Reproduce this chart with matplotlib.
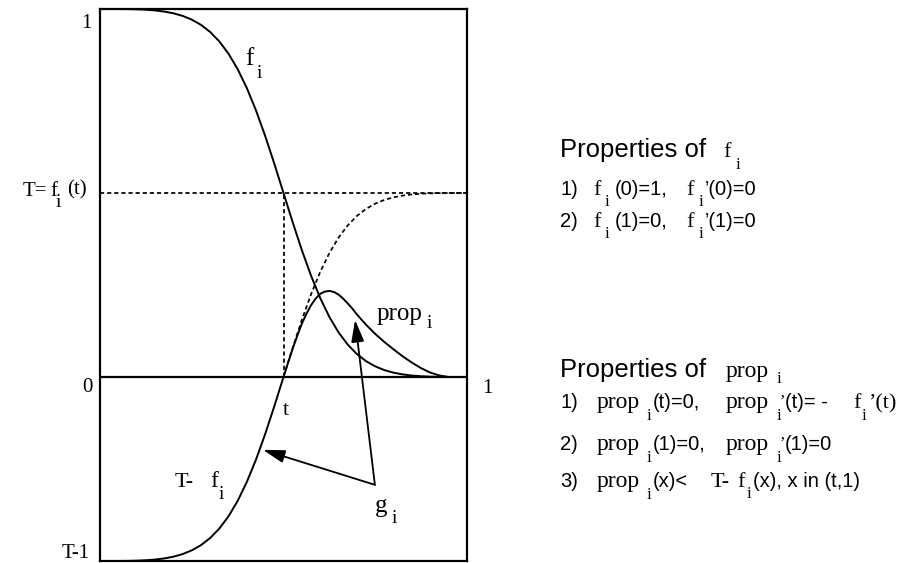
import numpy as np
import matplotlib.pyplot as plt

W, H = 907, 563

T = 0.5
t = 0.5

# f_i
x = [0.0, 0.025, 0.05, 0.075, 0.1, 0.125, 0.15, 0.175, 0.2, 0.225, 0.25,
     0.275, 0.3, 0.325, 0.35, 0.375, 0.4, 0.425, 0.45, 0.475, 0.5,
     0.525, 0.55, 0.575, 0.6, 0.625, 0.65, 0.675, 0.7, 0.725, 0.75,
     0.775, 0.8, 0.825, 0.85, 0.875, 0.9, 0.925, 0.95, 0.975, 1.0]
f_i = [1.0, 1.0, 0.9999, 0.9997, 0.9991, 0.998, 0.9961, 0.993, 0.9883, 0.9813, 0.9711,
       0.957, 0.9377, 0.912, 0.8788, 0.8368, 0.7854, 0.7246, 0.6553, 0.5794, 0.5,
       0.4206, 0.3447, 0.2754, 0.2146, 0.1632, 0.1212, 0.088, 0.0623, 0.043, 0.0289,
       0.0187, 0.0117, 0.007, 0.0039, 0.002, 0.0009, 0.0003, 0.0001, 0.0, 0.0]

# prop_i, zero before t
prop_x = [0.5, 0.5125, 0.525, 0.5375, 0.55, 0.5625, 0.575, 0.5875, 0.6, 0.6125,
          0.625, 0.6375, 0.65, 0.6625, 0.675, 0.6875, 0.7, 0.725, 0.75,
          0.775, 0.8, 0.825, 0.85, 0.875, 0.9, 0.925, 0.95, 0.975, 1.0]
prop_i = [0.0, 0.039, 0.077, 0.112, 0.145, 0.172, 0.195, 0.213, 0.226, 0.232,
          0.234, 0.231, 0.224, 0.213, 0.2, 0.186, 0.17, 0.142, 0.117,
          0.095, 0.075, 0.056, 0.039, 0.024, 0.012, 0.004, 0.0, 0.0, 0.0]

# g_i arrows: one tail, two heads
g_tail = (0.749, -0.293)
g_heads = [(0.444, -0.198), (0.695, 0.155)]

x = np.array(x)
f_i = np.array(f_i)
tf = T - f_i

fig = plt.figure(figsize=(W / 100, H / 100), dpi=100)
ax = fig.add_axes([100 / W, 2 / H, 367 / W, 552 / H])
ax.set_xlim(0, 1)
ax.set_ylim(T - 1, 1)
ax.set_xticks([])
ax.set_yticks([])
for s in ax.spines.values():
    s.set_linewidth(1.6)

lw = 1.4
dots = (0, (2.4, 1.7))
ax.plot(x, f_i, color='k', lw=lw, clip_on=False)
ax.plot(x[x <= t], tf[x <= t], color='k', lw=lw)
ax.plot(x[x >= t], tf[x >= t], color='k', lw=1.25, ls=dots)
ax.plot(prop_x, prop_i, color='k', lw=lw)
ax.axhline(0, color='k', lw=1.6)
ax.plot([0, 1], [T, T], color='k', lw=1.25, ls=dots)
ax.plot([t, t], [0, T], color='k', lw=1.25, ls=dots)

for hd in g_heads:
    ax.annotate('', xy=hd, xytext=g_tail,
                arrowprops=dict(arrowstyle='-|>,head_length=0.95,head_width=0.28',
                                color='k', lw=1.3, mutation_scale=14,
                                shrinkA=0, shrinkB=0))

SERIF = 'Liberation Serif'
SANS = 'Liberation Sans'


def put(xp, yp, s, size, fam=SERIF, ha='left'):
    fig.text(xp / W, 1 - yp / H, s, fontsize=size, family=fam, ha=ha, va='baseline')


# labels on the chart
put(92, 28, '1', 15, ha='right')
put(93, 392, '0', 15, ha='right')
put(90, 558, 'T-1', 15, ha='right')
put(482, 393, '1', 15)
put(283, 415, 't', 16)
put(47, 196, 'T=', 15, ha='right')
put(50, 196, 'f', 15)
put(56, 207, 'i', 14)
put(87, 194, '(t)', 15, ha='right')
put(245, 65, 'f', 18)
put(257, 78, 'i', 14)
put(377, 320, 'prop', 18)
put(427, 328, 'i', 14)
put(175, 487, 'T-', 16)
put(210, 487, 'f', 17)
put(219, 499, 'i', 14)
put(375, 512, 'g', 18)
put(392, 523, 'i', 14)

# properties of f_i
put(560, 157, 'Properties of', 18.5, SANS)
put(723, 157, 'f', 16)
put(736, 169, 'i', 12)
for yb, a, b in [(195, '(0)=1,', '’(0)=0'), (227, '(1)=0,', '’(1)=0')]:
    put(560, yb, '1)' if yb == 195 else '2)', 14.5, SANS)
    put(593, yb, 'f', 16)
    put(605, yb + 11, 'i', 12)
    put(615, yb, a, 14.5, SANS)
    put(686, yb, 'f', 16)
    put(699, yb + 11, 'i', 12)
    put(705, yb, b, 14.5, SANS)

# properties of prop_i
put(560, 377, 'Properties of', 18.5, SANS)
put(726, 377, 'prop', 17)
put(777, 383, 'i', 12)

put(560, 408, '1)', 14.5, SANS)
put(597, 408, 'prop', 17)
put(647, 420, 'i', 12)
put(653, 408, '(t)=0,', 14.5, SANS)
put(726, 408, 'prop', 17)
put(777, 420, 'i', 12)
put(780, 406, '’', 12)
put(785, 408, '(t)= -', 14.5, SANS)
put(853, 408, 'f', 16)
put(862, 420, 'i', 12)
put(868, 408, '’(t)', 16)

put(560, 450, '2)', 14.5, SANS)
put(597, 450, 'prop', 17)
put(647, 462, 'i', 12)
put(653, 450, '(1)=0,', 14.5, SANS)
put(726, 450, 'prop', 17)
put(777, 462, 'i', 12)
put(780, 448, '’', 12)
put(785, 450, '(1)=0', 14.5, SANS)

put(560, 487, '3)', 14.5, SANS)
put(597, 487, 'prop', 17)
put(647, 499, 'i', 12)
put(653, 487, '(x)<', 14.5, SANS)
put(711, 487, 'T-', 16)
put(737, 487, 'f', 16)
put(747, 498, 'i', 12)
put(753, 487, '(x), x in (t,1)', 14.5, SANS)

fig.savefig('out.png', dpi=100)
